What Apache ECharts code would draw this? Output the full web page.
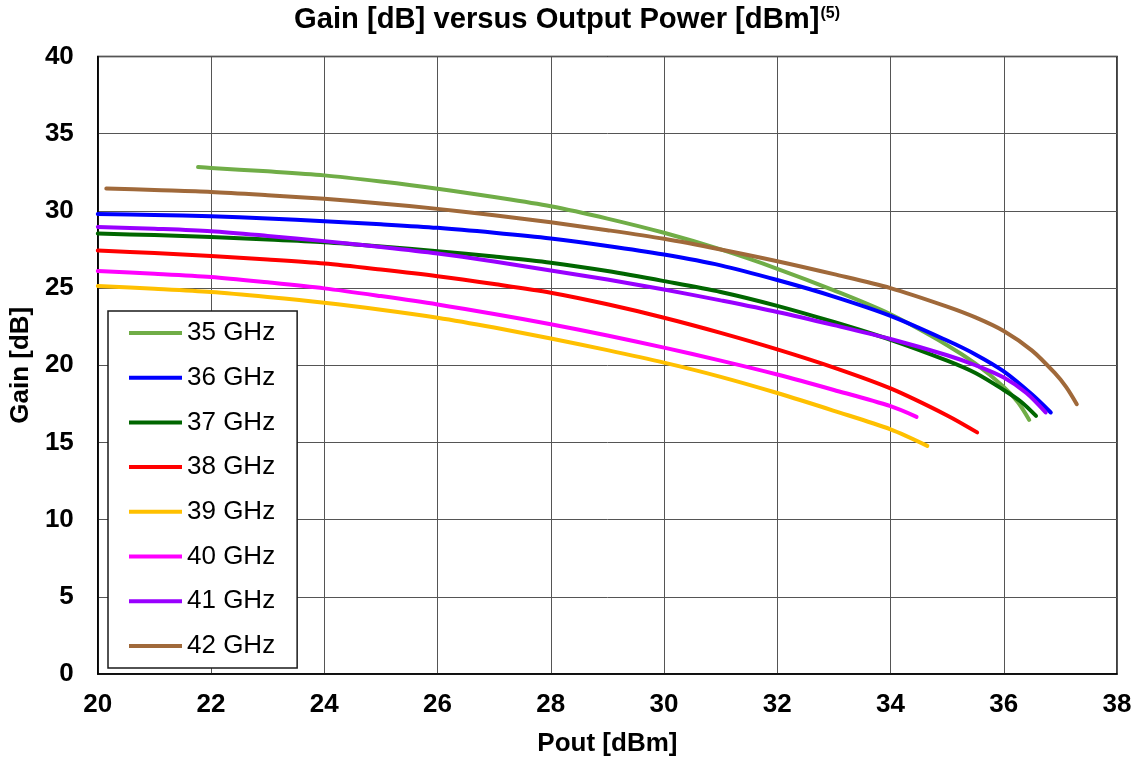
<!DOCTYPE html>
<html>
<head>
<meta charset="utf-8">
<title>Gain versus Output Power</title>
<script src="https://cdn.jsdelivr.net/npm/echarts@6/dist/echarts.min.js"></script>
<style>
html, body { margin: 0; padding: 0; background: #fff; }
#chart_gain { width: 1146px; height: 762px; }
</style>
</head>
<body>
<div id="chart_gain"></div>
<script>
// [Pout dBm, Gain dB], one array per frequency
var g35 = [[21.77,32.84],[22,32.78],[23,32.56],[24,32.3],[25,31.9],[26,31.44],[27,30.9],[28,30.3],[29,29.5],[30,28.58],[31,27.5],[32,26.25],[33,24.85],[34,23.3],[35,21.3],[35.5,20.1],[36,18.6],[36.25,17.6],[36.45,16.46]];
var g36 = [[20,29.8],[21,29.74],[22,29.65],[23,29.5],[24,29.33],[25,29.13],[26,28.9],[27,28.58],[28,28.21],[29,27.73],[30,27.17],[31,26.47],[32,25.52],[33,24.45],[34,23.2],[35,21.6],[35.5,20.7],[36,19.6],[36.5,18.1],[36.83,16.94]];
var g37 = [[20,28.53],[21,28.43],[22,28.3],[23,28.15],[24,27.97],[25,27.7],[26,27.39],[27,27.04],[28,26.64],[29,26.1],[30,25.45],[31,24.75],[32,23.85],[33,22.8],[34,21.65],[35,20.3],[35.5,19.5],[36,18.4],[36.3,17.65],[36.57,16.72]];
var g38 = [[20,27.43],[21,27.27],[22,27.07],[23,26.85],[24,26.59],[25,26.2],[26,25.77],[27,25.26],[28,24.7],[29,23.95],[30,23.08],[31,22.1],[32,21.03],[33,19.85],[34,18.5],[35,16.75],[35.53,15.65]];
var g39 = [[20,25.13],[21,24.95],[22,24.74],[23,24.42],[24,24.05],[25,23.6],[26,23.08],[27,22.44],[28,21.73],[29,20.98],[30,20.17],[31,19.25],[32,18.2],[33,17.05],[34,15.85],[34.65,14.78]];
var g40 = [[20,26.1],[21,25.93],[22,25.72],[23,25.37],[24,24.98],[25,24.48],[26,23.94],[27,23.32],[28,22.65],[29,21.93],[30,21.14],[31,20.3],[32,19.4],[33,18.4],[34,17.35],[34.46,16.66]];
var g41 = [[20,28.96],[21,28.84],[22,28.68],[23,28.38],[24,28.04],[25,27.66],[26,27.24],[27,26.72],[28,26.14],[29,25.55],[30,24.91],[31,24.2],[32,23.45],[33,22.6],[34,21.7],[35,20.65],[35.5,20.0],[36,19.2],[36.4,18.2],[36.74,16.94]];
var g42 = [[20.15,31.45],[21,31.35],[22,31.23],[23,31.02],[24,30.78],[25,30.48],[26,30.13],[27,29.72],[28,29.26],[29,28.75],[30,28.19],[31,27.5],[32,26.74],[33,25.9],[34,25.0],[35,23.8],[35.5,23.1],[36,22.22],[36.5,20.95],[36.9,19.5],[37.1,18.6],[37.29,17.48]];

var names = ['35 GHz','36 GHz','37 GHz','38 GHz','39 GHz','40 GHz','41 GHz','42 GHz'];
var curves = [g35, g36, g37, g38, g39, g40, g41, g42];
var colors = ['#70AD47','#0000FF','#006600','#FF0000','#FFC000','#FF00FF','#9900FF','#A0693A'];

var FONT = "'Liberation Sans', Arial, sans-serif";

function echart_gain() {
    var myChart = echarts.init(document.getElementById('chart_gain'), null, {renderer: 'canvas'});
    var series = [];
    for (var i = 0; i < curves.length; i++) {
        series.push({
            name: names[i],
            type: 'line',
            data: curves[i],
            smooth: 0.3,
            symbol: 'none',
            lineStyle: {width: 4, color: colors[i], cap: 'round', join: 'round'},
            itemStyle: {color: colors[i]}
        });
    }
    var option = {
        animation: false,
        title: {
            text: '{m|Gain [dB] versus Output Power [dBm]}{s|(5)}',
            left: 289,
            top: -1,
            textStyle: {
                rich: {
                    m: {fontFamily: FONT, fontSize: 29.2, fontWeight: 'bold', color: '#000', lineHeight: 32},
                    s: {fontFamily: FONT, fontSize: 16, fontWeight: 'bold', color: '#000', padding: [0, 0, 13, 1]}
                }
            }
        },
        legend: {
            orient: 'vertical',
            left: 108,
            top: 311,
            padding: [7, 22, 7, 21],
            backgroundColor: '#fff',
            borderColor: '#1a1a1a',
            borderWidth: 1.5,
            borderRadius: 0,
            itemWidth: 53,
            itemHeight: 4,
            itemGap: 14.7,
            icon: 'rect',
            textStyle: {fontFamily: FONT, fontSize: 26, color: '#000', lineHeight: 30},
            data: names
        },
        grid: {
            left: 96,
            right: 29,
            top: 56.5,
            bottom: 86.6,
            show: true,
            borderColor: '#000',
            borderWidth: 1.5,
            containLabel: false
        },
        xAxis: {
            type: 'value',
            min: 20,
            max: 38,
            interval: 2,
            name: 'Pout [dBm]',
            nameLocation: 'middle',
            nameGap: 57,
            nameTextStyle: {fontFamily: FONT, fontSize: 26, fontWeight: 'bold', color: '#000'},
            axisLine: {show: true, lineStyle: {color: '#000', width: 1.5}},
            axisTick: {show: false},
            axisLabel: {fontFamily: FONT, fontSize: 26, fontWeight: 'bold', color: '#000', margin: 18},
            splitLine: {show: true, lineStyle: {color: '#555', width: 1}}
        },
        yAxis: {
            type: 'value',
            min: 0,
            max: 40,
            interval: 5,
            name: 'Gain [dB]',
            nameLocation: 'middle',
            nameGap: 62,
            nameTextStyle: {fontFamily: FONT, fontSize: 26, fontWeight: 'bold', color: '#000'},
            axisLine: {show: true, lineStyle: {color: '#000', width: 1.5}},
            axisTick: {show: false},
            axisLabel: {fontFamily: FONT, fontSize: 26, fontWeight: 'bold', color: '#000', margin: 24},
            splitLine: {show: true, lineStyle: {color: '#555', width: 1}}
        },
        series: series
    };
    myChart.setOption(option);
}

echart_gain();
</script>
</body>
</html>
